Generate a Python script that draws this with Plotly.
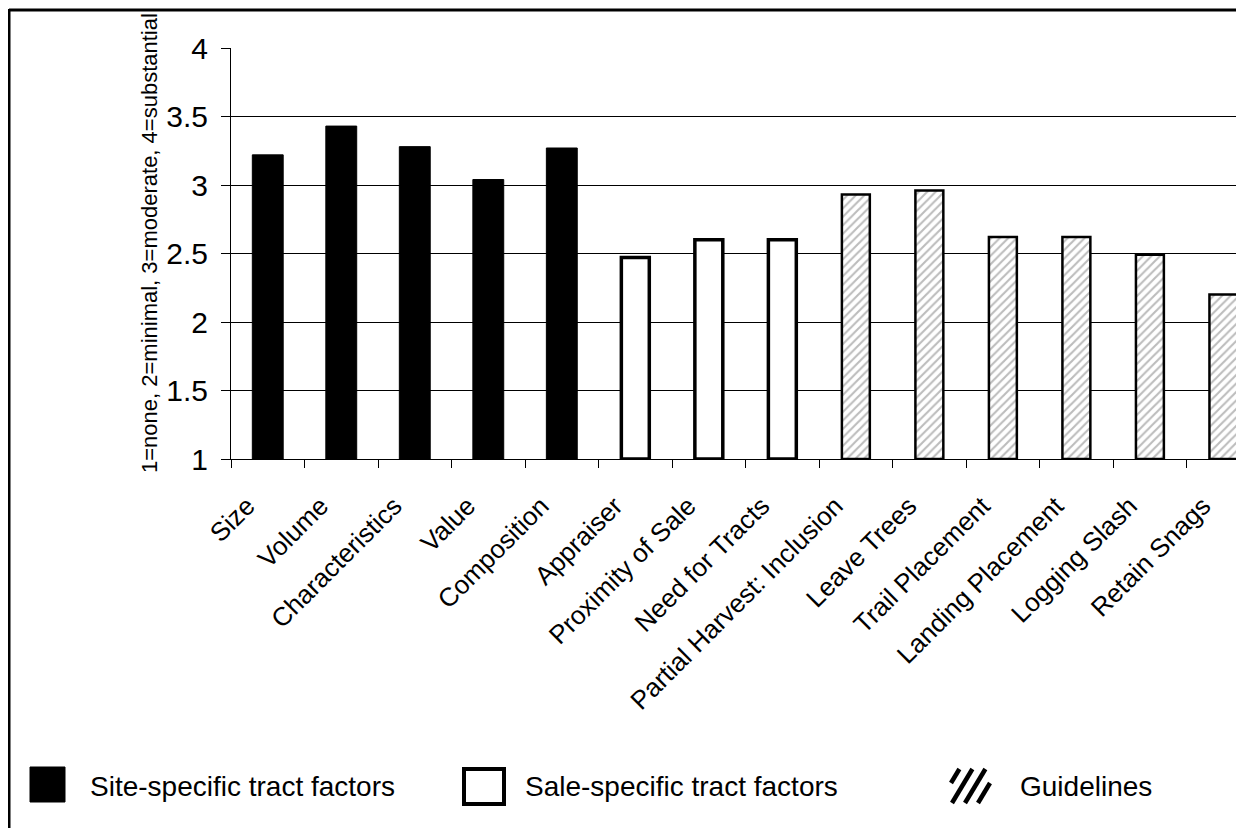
import plotly.graph_objects as go

categories = ["Size", "Volume", "Characteristics", "Value", "Composition",
              "Appraiser", "Proximity of Sale", "Need for Tracts",
              "Partial Harvest: Inclusion", "Leave Trees", "Trail Placement",
              "Landing Placement", "Logging Slash", "Retain Snags"]
site_cats = categories[0:5]
site_vals = [3.22, 3.43, 3.28, 3.04, 3.27]
sale_cats = categories[5:8]
sale_vals = [2.47, 2.60, 2.60]
guide_cats = categories[8:]
guide_vals = [2.93, 2.96, 2.62, 2.62, 2.49, 2.20]
y_ticks = [1, 1.5, 2, 2.5, 3, 3.5, 4]
y_tick_text = ["1", "1.5", "2", "2.5", "3", "3.5", "4"]
y_title = "1=none, 2=minimal, 3=moderate, 4=substantial"
legend_labels = ["Site-specific tract factors", "Sale-specific tract factors", "Guidelines"]

FONT = "Liberation Sans, Arial, Helvetica, sans-serif"
OFF = 8                      # browser body margin
W, H = 1244 - OFF, 828 - OFF
PLOT_LEFT, PLOT_TOP, PLOT_BOTTOM, PLOT_RIGHT = 231, 48, 459, 1244   # page pixels
L = PLOT_LEFT - OFF
T = PLOT_TOP - OFF
PH = PLOT_BOTTOM - PLOT_TOP
B = H - T - PH
R = 0
PW = W - L - R

def px(x):
    return (x - PLOT_LEFT) / PW

def py(y):
    return (PLOT_BOTTOM - y) / PH

BASE = 1
fig = go.Figure()
fig.add_trace(go.Bar(x=site_cats, y=[v - BASE for v in site_vals], base=BASE, width=0.42,
                     marker=dict(color="black", line=dict(color="black", width=1)),
                     name=legend_labels[0]))
fig.add_trace(go.Bar(x=sale_cats, y=[v - BASE for v in sale_vals], base=BASE, width=0.38,
                     marker=dict(color="white", line=dict(color="black", width=3.5)),
                     name=legend_labels[1]))
fig.add_trace(go.Bar(x=guide_cats, y=[v - BASE for v in guide_vals], base=BASE, width=0.38,
                     marker=dict(color="white", line=dict(color="black", width=2.5),
                                 pattern=dict(shape="/", fgcolor="#7a7a7a", bgcolor="white",
                                              size=6, solidity=0.35)),
                     name=legend_labels[2]))

shapes = []
# outer frame (top and left edges)
shapes.append(dict(type="line", xref="paper", yref="paper", x0=px(9), x1=1.0, y0=py(10), y1=py(10),
                   line=dict(color="black", width=3)))
shapes.append(dict(type="line", xref="paper", yref="paper", x0=px(9), x1=px(9), y0=py(9), y1=py(830),
                   line=dict(color="black", width=3)))
# legend symbols
shapes.append(dict(type="rect", xref="paper", yref="paper", x0=px(30), x1=px(65), y0=py(802), y1=py(767),
                   fillcolor="black", line=dict(color="black", width=1)))
shapes.append(dict(type="rect", xref="paper", yref="paper", x0=px(464), x1=px(504), y0=py(804), y1=py(769),
                   fillcolor="white", line=dict(color="black", width=4)))
# hatch symbol: steep diagonal stripes clipped to a box
bx0, bx1, by0, by1 = 951, 990, 769, 803
for c in [-12, 1, 14, 27]:
    pts = []
    for t in range(0, 400):
        y = by1 - t * 0.1
        x = bx0 + c + 0.6 * (by1 - y)
        if bx0 <= x <= bx1 and by0 <= y <= by1:
            pts.append((x, y))
    if pts:
        (xa, ya), (xb, yb) = pts[0], pts[-1]
        shapes.append(dict(type="line", xref="paper", yref="paper", x0=px(xa), y0=py(ya),
                           x1=px(xb), y1=py(yb), line=dict(color="black", width=4.5)))

annotations = []
annotations.append(dict(text=y_title, xref="paper", yref="paper", x=px(149), y=py(243),
                        xanchor="center", yanchor="middle", textangle=-90, showarrow=False,
                        font=dict(size=22, family=FONT, color="black")))
for lbl, x0 in zip(legend_labels, [88, 523, 1018]):
    annotations.append(dict(text=lbl, xref="paper", yref="paper", x=px(x0), y=py(786),
                            xanchor="left", yanchor="middle", showarrow=False,
                            font=dict(size=28, family=FONT, color="black")))

# trailing non-breaking spaces nudge the rotated labels down-left, as in the original
x_tick_text = [c + "\u00a0" * 4 for c in categories]

fig.update_layout(
    width=W, height=H,
    margin=dict(l=L, r=R, t=T, b=B, pad=0),
    paper_bgcolor="white", plot_bgcolor="white",
    barmode="overlay", showlegend=False,
    font=dict(family=FONT, color="black"),
    shapes=shapes, annotations=annotations,
    xaxis=dict(type="category", categoryorder="array", categoryarray=categories,
               tickmode="array", tickvals=categories, ticktext=x_tick_text,
               range=[-0.5, 13.28], tickangle=-45, tickfont=dict(size=26, family=FONT, color="black"),
               ticks="outside", tickson="boundaries", ticklen=8, tickcolor="black", tickwidth=1,
               showline=True, linecolor="black", linewidth=1, showgrid=False, zeroline=False),
    yaxis=dict(range=[1, 4], tickvals=y_ticks, ticktext=y_tick_text,
               tickfont=dict(size=30, family=FONT, color="black"),
               ticks="outside", ticklen=9, tickcolor="black", tickwidth=1, ticklabelstandoff=7,
               showline=True, linecolor="black", linewidth=1,
               showgrid=True, gridcolor="black", gridwidth=1, zeroline=False),
)

fig.write_html("out.html")
